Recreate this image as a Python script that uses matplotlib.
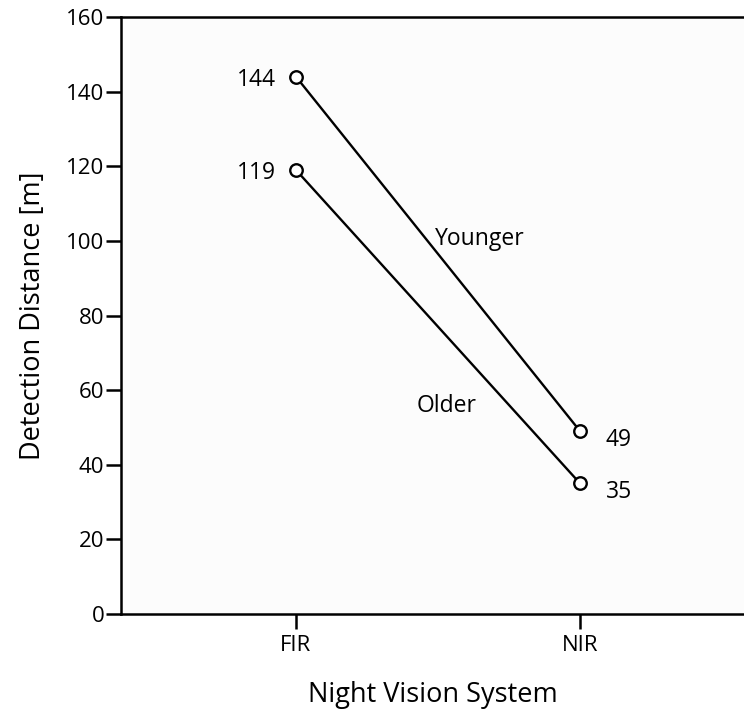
import matplotlib
matplotlib.use('Agg')
import matplotlib.pyplot as plt

plt.rcParams['font.family'] = ['Open Sans', 'DejaVu Sans']

# detection distance by night vision system
systems = ['FIR', 'NIR']
younger = [144, 49]
older = [119, 35]
groups = ['Younger', 'Older']

fig = plt.figure(figsize=(7.44, 7.12), dpi=100, facecolor='white')
ax = fig.add_axes([0.1626, 0.1376, 0.8374, 0.8385])
ax.set_facecolor('#fcfcfc')

xs = [1, 2]
for vals in (younger, older):
    ax.plot(xs, vals, color='black', lw=1.7, marker='o', ms=9,
            mfc='white', mec='black', mew=1.7, zorder=3)
    ax.text(xs[0] - 0.07, vals[0] - 0.8, str(vals[0]), ha='right', va='center', fontsize=16.5)
    ax.text(xs[1] + 0.09, vals[1] - 2.3, str(vals[1]), ha='left', va='center', fontsize=16.5)

ax.text(1.648, 100.5, groups[0], ha='center', va='center', fontsize=16.5)
ax.text(1.532, 55.8, groups[1], ha='center', va='center', fontsize=16.5)

ax.set_xlim(0.384, 2.577)
ax.set_ylim(0, 160)
ax.set_xticks(xs)
ax.set_xticklabels(systems)
ax.set_yticks(range(0, 161, 20))

for s in ['left', 'top', 'bottom']:
    ax.spines[s].set_linewidth(1.8)
ax.spines['right'].set_visible(False)
ax.tick_params(axis='both', direction='out', length=11, width=1.8, labelsize=16, pad=1)
ax.tick_params(axis='x', pad=4)

ax.set_xlabel('Night Vision System', fontsize=19.5, labelpad=18)
ax.set_ylabel('Detection Distance [m]', fontsize=19.5, labelpad=14)

fig.savefig('out.png', dpi=100, facecolor='white')
